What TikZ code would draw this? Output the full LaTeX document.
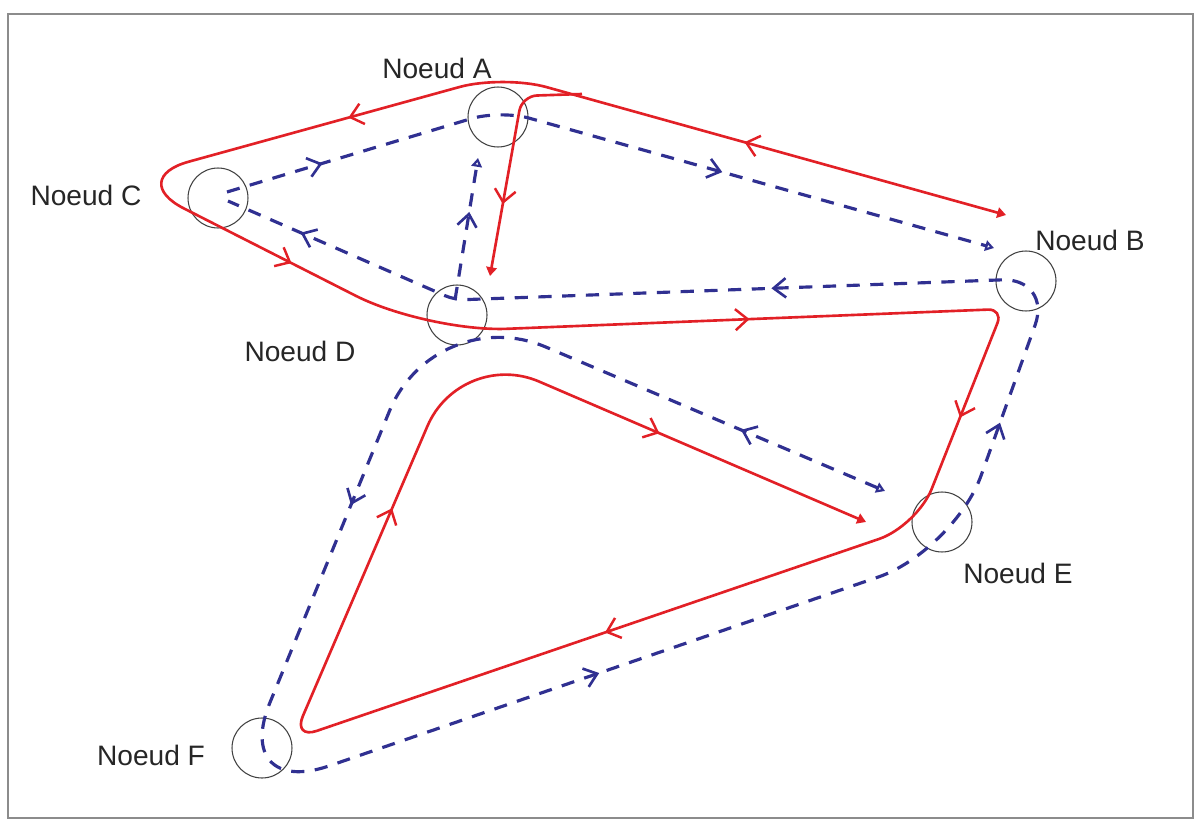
\documentclass[tikz,border=0pt]{standalone}
\usepackage{fontspec}
\newfontfamily\labelfont{Liberation Sans}
\usetikzlibrary{arrows.meta,decorations.markings}

\definecolor{routered}{RGB}{226,32,38}
\definecolor{routeblue}{RGB}{48,48,145}

\begin{document}
\begin{tikzpicture}[
        x=0.02cm, y=-0.02cm,
        station/.style={
            circle,
            draw=black!75,
            line width=0.6pt,
            minimum size=1.2cm,
            inner sep=0pt
        },
        tag/.style={
            font=\labelfont\fontsize{16}{19}\selectfont,
            text=black!85,
            inner sep=0pt
        },
        redroute/.style={
            draw=routered,
            line width=1.5pt,
            line join=round
        },
        blueroute/.style={
            draw=routeblue,
            line width=1.8pt,
            dash pattern=on 7.5pt off 6pt,
            line join=round
        },
        redmark/.style={
            color=routered,
            line width=1.4pt,
            postaction={decorate},
            decoration={markings,
                mark=at position #1 with {\arrow{Straight Barb[length=7pt,width=12pt]}}}
        },
        bluemark/.style={
            color=routeblue,
            line width=1.5pt,
            postaction={decorate},
            decoration={markings,
                mark=at position #1 with {\arrow{Straight Barb[length=7pt,width=11pt]}}}
        },
        redtip/.style={-{Triangle[length=5pt,width=6pt]}},
        bluetip/.style={-{Triangle[open,length=5pt,width=6pt]}}
    ]

        \useasboundingbox (0,0) rectangle (1201,821);
        \draw[black!45, line width=1pt] (8,14) rectangle (1193,818);

        % nodes of the network
        \node[station] (A) at (498,117) {};
        \node[station] (B) at (1026,281) {};
        \node[station] (C) at (218,198) {};
        \node[station] (D) at (457,315) {};
        \node[station] (E) at (942,522) {};
        \node[station] (F) at (262,748) {};

        \node[tag] (labA) at (437,68) {Noeud A};
        \node[tag] (labB) at (1090,240) {Noeud B};
        \node[tag] (labC) at (86,195) {Noeud C};
        \node[tag] (labD) at (300,351) {Noeud D};
        \node[tag] (labE) at (1018,573) {Noeud E};
        \node[tag] (labF) at (151,755) {Noeud F};

        % red route
        \coordinate (redB) at (1006,215);
        \coordinate (redA) at (503,75);
        \coordinate (redC) at (126,179);
        \coordinate (redD) at (427,332);
        \coordinate (redBc) at (1003,309);
        \coordinate (redE) at (917,526);
        \coordinate (redF) at (293,739);
        \coordinate (redTop) at (461,348);
        \coordinate (redEnd) at (866,522);
        \coordinate (redJoin) at (582,94);
        \coordinate (redAc) at (522,96);
        \coordinate (redDown) at (490,276);

        \draw[redroute, {Triangle[length=5pt,width=6pt]}-{Triangle[length=5pt,width=6pt]}]
            (redB) [rounded corners=0.9cm] -- (redA)
            [rounded corners=1.3cm] -- (redC)
            [rounded corners=1.6cm] -- (redD)
            [rounded corners=0.3cm] -- (redBc)
            [rounded corners=0.8cm] -- (redE)
            [rounded corners=0.5cm] -- (redF)
            [rounded corners=1.7cm] -- (redTop)
            -- (redEnd);
        \draw[redroute, redtip, rounded corners=0.3cm] (redJoin) -- (redAc) -- (redDown);

        \path[redmark=0.52] (redB) -- (redA);
        \path[redmark=0.41] (redA) -- (redC);
        \path[redmark=0.55] (redC) -- (redD);
        \path[redmark=0.56] (redD) -- (redBc);
        \path[redmark=0.50] (redBc) -- (redE);
        \path[redmark=0.50] (redE) -- (redF);
        \path[redmark=0.59] (redF) -- (redTop);
        \path[redmark=0.49] (redTop) -- (redEnd);
        \path[redmark=0.60] (redAc) -- (redDown);

        % blue route
        \coordinate (blueEnd) at (885,491);
        \coordinate (blueTop) at (435,300);
        \coordinate (blueF) at (230,800);
        \coordinate (blueE) at (954,551);
        \coordinate (blueB) at (1052,278);
        \coordinate (blueD) at (455,300);
        \coordinate (blueC) at (228,201);
        \coordinate (bcStart) at (227,192);
        \coordinate (bcA) at (500,110);
        \coordinate (bcEnd) at (994,248);
        \coordinate (daEnd) at (478,158);

        \draw[blueroute, {Triangle[open,length=5pt,width=6pt]}-]
            (blueEnd) [rounded corners=2.4cm] -- (blueTop)
            [rounded corners=2.1cm] -- (blueF)
            [rounded corners=1.6cm] -- (blueE)
            [rounded corners=1cm] -- (blueB)
            [rounded corners=0.2cm] -- (blueD)
            -- (blueC);
        \draw[blueroute, bluetip, rounded corners=0.6cm] (bcStart) -- (bcA) -- (bcEnd);
        \draw[blueroute, bluetip] (blueD) -- (daEnd);

        \path[bluemark=0.32] (blueEnd) -- (blueTop);
        \path[bluemark=0.41] (blueTop) -- (blueF);
        \path[bluemark=0.51] (blueF) -- (blueE);
        \path[bluemark=0.47] (blueE) -- (blueB);
        \path[bluemark=0.47] (blueB) -- (blueD);
        \path[bluemark=0.68] (blueD) -- (blueC);
        \path[bluemark=0.35] (bcStart) -- (bcA);
        \path[bluemark=0.45] (bcA) -- (bcEnd);
        \path[bluemark=0.62] (blueD) -- (daEnd);

    \end{tikzpicture}
\end{document}
